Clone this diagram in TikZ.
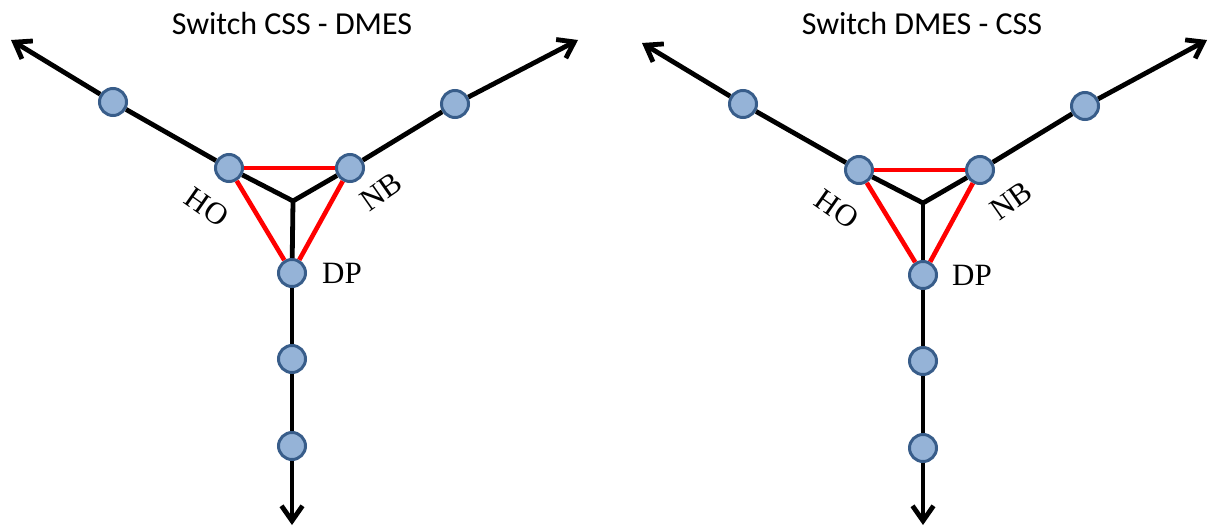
\documentclass[tikz,border=0pt]{standalone}
\usepackage{fontspec}
\setmainfont{Liberation Serif}
\newfontfamily\titlefont{Carlito}
\usetikzlibrary{arrows.meta}
\definecolor{nodefill}{HTML}{95B3D7}
\definecolor{nodeline}{HTML}{385D8A}
\tikzset{
  stn/.style={circle, fill=nodefill, draw=nodeline, line width=3pt, minimum size=27pt, inner sep=0pt},
  trackline/.style={black, line width=4.8pt},
  trackarrow/.style={trackline, -{Straight Barb[length=15pt,width=21pt,line width=4.8pt]}},
  redline/.style={red, line width=4.6pt},
  lbl/.style={font=\fontsize{31}{36}\selectfont, inner sep=0pt},
  ttl/.style={font=\titlefont\fontsize{32}{38}\selectfont, inner sep=0pt}
}
\begin{document}
\begin{tikzpicture}[x=1pt,y=-1pt]
\useasboundingbox (0,0) rectangle (1209,527);
% ---------- left diagram ----------
\node[ttl] (at) at (292,24) {Switch CSS - DMES};
\coordinate (aJ) at (293,201);
\coordinate (atl) at (11,40);
\coordinate (atr) at (578,40);
\coordinate (atb) at (292,525);
\node[stn] (aHO) at (229,168) {};
\node[stn] (aNB) at (350,168) {};
\node[stn] (aDP) at (292,273) {};
\node[stn] (ac1) at (113,102) {};
\node[stn] (ac2) at (455,104) {};
\node[stn] (ac3) at (292,359) {};
\node[stn] (ac4) at (292,446) {};
\draw[trackline, line join=miter] (aHO) -- (aJ) -- (aNB);
\draw[trackline] (aJ) -- (aDP);
\draw[trackline] (aHO) -- (ac1);
\draw[trackarrow] (ac1) -- (atl);
\draw[trackline] (aNB) -- (ac2);
\draw[trackarrow] (ac2) -- (atr);
\draw[trackline] (aDP) -- (ac3);
\draw[trackline] (ac3) -- (ac4);
\draw[trackarrow] (ac4) -- (atb);
\draw[redline] (aHO) -- (aNB);
\draw[redline] (aHO) -- (aDP);
\draw[redline] (aNB) -- (aDP);
\node[lbl, rotate=-35] (aHOl) at (207,207) {HO};
\node[lbl, rotate=35] (aNBl) at (381,192) {NB};
\node[lbl] (aDPl) at (342,273) {DP};
% ---------- right diagram ----------
\node[ttl] (bt) at (922,24) {Switch DMES - CSS};
\coordinate (bJ) at (923,203);
\coordinate (btl) at (642,43);
\coordinate (btr) at (1207,40);
\coordinate (btb) at (923,525);
\node[stn] (bHO) at (859,170) {};
\node[stn] (bNB) at (980,170) {};
\node[stn] (bDP) at (923,275) {};
\node[stn] (bc1) at (743,104) {};
\node[stn] (bc2) at (1085,106) {};
\node[stn] (bc3) at (923,361) {};
\node[stn] (bc4) at (923,448) {};
\draw[trackline, line join=miter] (bHO) -- (bJ) -- (bNB);
\draw[trackline] (bJ) -- (bDP);
\draw[trackline] (bHO) -- (bc1);
\draw[trackarrow] (bc1) -- (btl);
\draw[trackline] (bNB) -- (bc2);
\draw[trackarrow] (bc2) -- (btr);
\draw[trackline] (bDP) -- (bc3);
\draw[trackline] (bc3) -- (bc4);
\draw[trackarrow] (bc4) -- (btb);
\draw[redline] (bHO) -- (bNB);
\draw[redline] (bHO) -- (bDP);
\draw[redline] (bNB) -- (bDP);
\node[lbl, rotate=-35] (bHOl) at (837,209) {HO};
\node[lbl, rotate=35] (bNBl) at (1011,201) {NB};
\node[lbl] (bDPl) at (972,275) {DP};
\end{tikzpicture}
\end{document}
